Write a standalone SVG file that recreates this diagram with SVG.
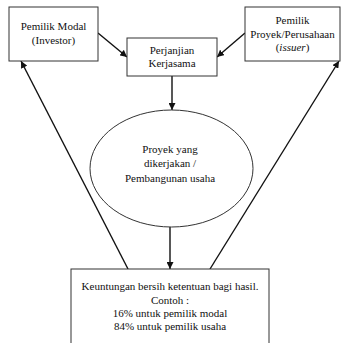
<svg xmlns="http://www.w3.org/2000/svg" width="344" height="343" viewBox="0 0 344 343" font-family="'Liberation Serif', serif">
<style>
.box{fill:#fff;stroke:#333;stroke-width:1}
.t{font-size:11px;fill:#111;text-anchor:middle}
.c{stroke:#111;stroke-width:1.4;fill:none;marker-end:url(#ah)}
</style>
<defs>
<marker id="ah" viewBox="0 0 10 10" refX="10" refY="5" markerWidth="7" markerHeight="7" markerUnits="userSpaceOnUse" orient="auto">
<path d="M0,0 L10,5 L0,10 z" fill="#111"/>
</marker>
</defs>
<rect width="344" height="343" fill="#fff"/>
<g id="connectors">
<line class="c" x1="98" y1="33" x2="127" y2="57"/>
<line class="c" x1="245" y1="33" x2="217" y2="57"/>
<line class="c" x1="172" y1="76" x2="172" y2="110"/>
<line class="c" x1="170" y1="227" x2="170" y2="269"/>
<line class="c" x1="128" y1="269" x2="21" y2="61"/>
<line class="c" x1="210" y1="269" x2="339" y2="61"/>
</g>
<g id="investor">
<rect class="box" x="9" y="7" width="89" height="54"/>
<text class="t" x="53.5" y="30" font-family="'Liberation Serif', serif">Pemilik Modal</text>
<text class="t" x="53.5" y="44" font-family="'Liberation Serif', serif">(Investor)</text>
</g>
<g id="issuer">
<rect class="box" x="245" y="7" width="95" height="54"/>
<text class="t" x="292.5" y="24" font-family="'Liberation Serif', serif">Pemilik</text>
<text class="t" x="292.5" y="38" font-family="'Liberation Serif', serif">Proyek/Perusahaan</text>
<text class="t" x="292.5" y="51" font-family="'Liberation Serif', serif">(<tspan font-style="italic">issuer</tspan>)</text>
</g>
<g id="perjanjian">
<rect class="box" x="127" y="38" width="90" height="38"/>
<text class="t" x="172" y="54" font-family="'Liberation Serif', serif">Perjanjian</text>
<text class="t" x="172" y="67" font-family="'Liberation Serif', serif">Kerjasama</text>
</g>
<g id="proyek">
<ellipse class="box" cx="171.5" cy="168.5" rx="81.5" ry="58.5"/>
<text class="t" x="170" y="153" font-family="'Liberation Serif', serif">Proyek yang</text>
<text class="t" x="170" y="167" font-family="'Liberation Serif', serif">dikerjakan /</text>
<text class="t" x="170" y="182" font-family="'Liberation Serif', serif">Pembangunan usaha</text>
</g>
<g id="keuntungan">
<rect class="box" x="71" y="269" width="198" height="80"/>
<text class="t" x="170" y="290" font-family="'Liberation Serif', serif">Keuntungan bersih ketentuan bagi hasil.</text>
<text class="t" x="170" y="304" font-family="'Liberation Serif', serif">Contoh :</text>
<text class="t" x="170" y="317" font-family="'Liberation Serif', serif">16% untuk pemilik modal</text>
<text class="t" x="170" y="330" font-family="'Liberation Serif', serif">84% untuk pemilik usaha</text>
</g>
</svg>
